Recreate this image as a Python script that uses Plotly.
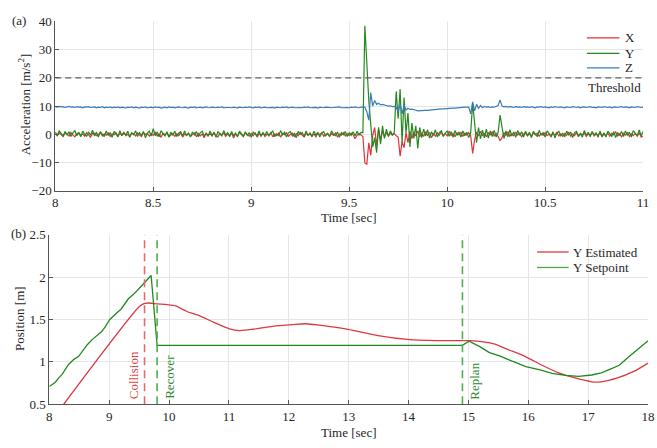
import numpy as np
import plotly.graph_objects as go

# ---------------- data: panel (a) ----------------
t_start, t_step, n_samples = 8.0, 0.01, 301
acc_time = np.round(t_start + t_step * np.arange(n_samples), 2)

acc_x = [
    0.3, -0.5, 0.6, -0.2, -0.8, 0.4, 0.1, -0.6, 0.7, -0.3,
    -0.9, 0.2, 0.5, -0.4, 0.1, -0.7, 0.6, -0.2, -1.0, 0.3,
    0.4, -0.5, -0.1, 0.7, -0.6, 0.2, -0.3, 0.5, -0.8, 0.1,
    -0.2, 0.6, -0.7, 0.3, -0.4, 0.8, -0.5, 0.0, -0.9, 0.4,
    0.2, -0.6, 0.5, -0.3, -0.8, 0.6, -0.1, 0.3, -0.7, 0.2,
    -0.4, 0.7, -0.6, 0.1, -1.1, 0.4, -0.2, 0.5, -0.9, -0.3,
    0.3, -0.8, 0.2, -0.5, 0.6, -1.0, 0.1, -0.4, 0.4, -0.7,
    -0.2, 0.5, -0.9, 0.3, -0.6, 0.1, -1.2, 0.4, -0.3, 0.2,
    -0.7, 0.6, -0.4, -1.0, 0.3, -0.2, 0.5, -0.8, 0.1, -0.5,
    0.4, -1.3, 0.2, -0.6, 0.7, -0.3, -0.9, 0.5, -0.1, -0.7,
    0.3, -0.5, 0.6, -1.0, 0.2, -0.4, 0.5, -0.8, 0.0, -0.3,
    0.6, -0.9, 0.1, -0.5, 0.4, -1.1, 0.3, -0.2, 0.5, -0.7,
    -0.1, 0.4, -0.8, 0.2, -0.5, 0.7, -0.3, -1.0, 0.3, -0.4,
    0.5, -0.6, 0.1, -0.9, 0.4, -0.2, 0.6, -0.7, -0.1, 0.3,
    -0.8, 0.2, -0.4, 0.5, -1.0, 0.1, -0.3, 0.6, -0.6, 0.2,
    -0.5, 0.4, -0.2, -1.6, -0.4, 0.3, -0.3, -0.8, -10.2, -10.6,
    -3.0, -7.5, -0.5, 2.4, -4.0, 1.8, -2.2, 1.2, -1.0, 0.6,
    -0.6, 0.4, -0.3, 0.2, -0.5, -1.0, -7.8, -2.5, -4.8, 0.6,
    -3.0, 1.0, -1.5, 0.8, -0.6, 1.2, -1.0, 0.5, -0.8, 0.9,
    -0.4, 0.6, -1.2, 0.3, -0.7, 0.5, -0.3, 0.9, -0.5, 0.2,
    -0.6, 1.2, -0.4, 0.3, -0.9, 0.5, -0.2, 0.7, -0.8, 0.4,
    -0.3, 0.6, -0.5, -6.8, -2.0, 0.8, -0.6, 1.0, -0.4, 0.3,
    -0.9, 0.5, -0.2, 0.8, -0.6, 0.3, -0.8, -2.3, -1.2, 0.6,
    -0.4, 0.9, -0.7, 0.2, -0.5, 0.7, -0.3, 0.4, -0.9, 0.1,
    0.5, -0.6, 0.3, -0.8, 0.6, -0.2, 0.4, -0.7, 0.2, -0.4,
    0.6, -0.5, 0.1, -0.9, 0.4, -0.3, 0.7, -0.6, 0.2, -0.8,
    0.3, -0.4, 0.8, -0.7, 0.1, -0.5, 0.6, -0.9, 0.3, -0.2,
    0.5, -0.8, 0.2, -0.4, 0.7, -0.6, 0.1, -0.3, 0.6, -1.0,
    0.2, -0.5, 0.4, -0.7, 0.3, -0.2, 0.8, -0.6, 0.1, -0.9,
    0.4, -0.3, 0.6, -0.8, 0.2, -0.5, 0.3, -0.7, 0.5, -1.0,
    -0.6,
]

acc_y = [
    0.8, -0.4, 1.2, 0.2, -0.6, 1.0, -0.2, 0.9, -0.8, 0.5,
    1.3, -0.5, 0.6, -0.9, 1.1, 0.0, -0.7, 0.8, -0.3, 1.4,
    -0.6, 0.7, -1.0, 0.9, 0.1, -0.8, 1.2, -0.4, 0.6, -1.1,
    1.0, 0.2, -0.9, 1.3, -0.5, 0.4, -0.3, 1.1, -1.0, 0.5,
    -0.2, 1.2, -0.8, 0.6, -0.4, 1.0, -1.2, 0.3, 1.1, -0.6,
    2.0, -0.5, 0.8, -0.9, 1.3, 0.1, -0.6, 0.9, -1.0, 0.7,
    -0.3, 1.1, -0.8, 0.4, 0.9, -0.7, 1.2, -0.4, 0.3, -1.0,
    0.8, -0.2, 1.0, -0.9, 0.5, 1.1, -0.5, 0.2, -0.8, 1.2,
    -0.4, 0.7, -1.1, 0.9, 0.0, -0.6, 1.3, -0.3, 0.6, -0.9,
    1.0, -0.5, 0.4, -1.0, 1.1, 0.2, -0.7, 0.9, -0.4, 0.6,
    -1.1, 0.8, 0.1, -0.6, 1.2, -0.8, 0.5, -0.3, 1.0, -0.7,
    0.4, 1.1, -0.9, 0.2, -0.5, 1.3, -0.2, 0.7, -1.0, 0.5,
    0.9, -0.6, 0.3, -1.2, 1.0, -0.1, 0.6, -0.8, 1.2, -0.4,
    0.2, -0.9, 1.1, -0.3, 0.7, -1.0, 0.5, 0.9, -0.6, 0.3,
    -0.7, 1.2, 0.0, -0.5, 0.8, -1.1, 0.6, -0.2, 1.0, -0.8,
    0.5, -0.4, 0.9, -0.6, 1.1, -0.3, 0.7, 0.6, 38.5, 24.0,
    12.0, 3.5, -4.5, -1.2, -6.5, 2.5, -3.5, 3.0, -1.5, 1.8,
    -0.8, 1.2, -0.2, 0.6, 15.2, 5.5, 16.0, -3.0, 13.0, 0.5,
    7.5, -4.5, 4.0, -1.5, 3.0, -5.0, 2.4, -1.2, 1.8, -0.6,
    1.6, -1.4, 0.9, -0.4, 1.5, -1.0, 0.6, 1.2, -0.8, 0.4,
    1.1, -0.7, 0.9, -1.1, 1.3, -0.4, 0.8, -1.0, 1.2, -0.5,
    0.7, -1.2, 0.5, 11.0, 4.0, -3.0, 2.4, -1.6, 1.5, -1.3,
    1.8, -1.4, 1.2, -0.8, 1.4, -1.0, 0.6, 6.8, 2.5, -1.5,
    1.2, -0.9, 1.6, -0.6, 0.8, -1.1, 1.3, -0.4, 0.9, -1.0,
    1.1, -0.5, 0.7, -1.2, 1.0, 0.2, -0.8, 1.4, -0.3, 0.6,
    -1.0, 1.2, 0.1, -0.7, 0.9, -1.3, 0.5, 1.0, -0.6, 0.3,
    -0.9, 1.1, -0.2, 0.8, -1.2, 0.6, 1.0, -0.5, 0.2, -1.0,
    1.3, -0.4, 0.7, -0.9, 1.0, -0.2, 0.5, -1.1, 1.2, -0.6,
    0.4, -1.0, 1.1, 0.1, -0.7, 0.9, -1.2, 0.6, -0.3, 1.0,
    -0.8, 1.2, -0.4, 0.7, -1.0, 1.3, 0.2, -0.6, 1.5, -0.5,
    1.0,
]

acc_z = [
    9.8, 9.6, 9.9, 9.7, 9.8, 9.5, 9.7, 9.9, 9.6, 9.7,
    9.5, 9.8, 9.6, 9.7, 9.4, 9.7, 9.6, 9.8, 9.5, 9.6,
    9.7, 9.4, 9.6, 9.5, 9.8, 9.4, 9.6, 9.5, 9.7, 9.4,
    9.6, 9.5, 9.7, 9.4, 9.6, 9.5, 9.3, 9.6, 9.5, 9.7,
    9.4, 9.6, 9.5, 9.3, 9.6, 9.5, 9.7, 9.4, 9.5, 9.6,
    9.4, 9.7, 9.5, 9.6, 9.3, 9.5, 9.6, 9.4, 9.7, 9.5,
    9.6, 9.4, 9.5, 9.7, 9.5, 9.4, 9.6, 9.5, 9.3, 9.6,
    9.5, 9.7, 9.4, 9.5, 9.6, 9.4, 9.5, 9.7, 9.5, 9.4,
    9.6, 9.5, 9.4, 9.6, 9.5, 9.7, 9.4, 9.5, 9.6, 9.5,
    9.4, 9.6, 9.5, 9.3, 9.6, 9.5, 9.4, 9.6, 9.5, 9.7,
    9.5, 9.4, 9.6, 9.5, 9.7, 9.4, 9.5, 9.6, 9.4, 9.5,
    9.6, 9.5, 9.3, 9.6, 9.5, 9.4, 9.6, 9.5, 9.7, 9.4,
    9.5, 9.6, 9.4, 9.5, 9.6, 9.5, 9.4, 9.6, 9.5, 9.7,
    9.4, 9.5, 9.6, 9.5, 9.3, 9.6, 9.5, 9.4, 9.6, 9.5,
    9.6, 9.4, 9.5, 9.6, 9.5, 9.7, 9.4, 9.5, 9.6, 9.5,
    9.4, 9.6, 9.5, 9.7, 9.5, 9.4, 9.6, 9.5, 9.6, 8.0,
    5.0, 14.8, 10.0, 12.0, 10.6, 11.0, 10.4, 10.6, 10.3, 10.2,
    10.0, 10.1, 9.8, 9.9, 9.6, 8.0, 10.8, 7.2, 10.2, 8.6,
    9.2, 8.8, 8.9, 8.6, 8.5, 8.3, 8.4, 8.3, 8.4, 8.5,
    8.5, 8.6, 8.6, 8.7, 8.8, 8.8, 8.9, 9.0, 9.0, 9.1,
    9.1, 9.2, 9.2, 9.3, 9.3, 9.4, 9.4, 9.5, 9.5, 9.6,
    9.6, 9.6, 7.2, 11.5, 8.3, 10.6, 9.2, 10.2, 9.4, 9.9,
    9.6, 9.8, 9.5, 9.7, 9.6, 9.8, 10.2, 12.2, 10.0, 9.7,
    9.9, 9.6, 9.8, 9.7, 9.5, 9.8, 9.6, 9.7, 9.5, 9.8,
    9.6, 9.7, 9.5, 9.8, 9.6, 9.4, 9.7, 9.6, 9.8, 9.5,
    9.7, 9.6, 9.4, 9.7, 9.5, 9.8, 9.6, 9.5, 9.7, 9.6,
    9.4, 9.7, 9.6, 9.5, 9.8, 9.6, 9.5, 9.7, 9.4, 9.6,
    9.7, 9.5, 9.6, 9.8, 9.5, 9.6, 9.4, 9.7, 9.6, 9.5,
    9.8, 9.6, 9.5, 9.7, 9.4, 9.6, 9.7, 9.5, 9.6, 9.8,
    9.5, 9.7, 9.6, 9.4, 9.7, 9.6, 9.5, 9.8, 9.6, 9.5,
    9.6,
]

threshold_value = 20
acc_xticks = [8, 8.5, 9, 9.5, 10, 10.5, 11]
acc_yticks = [-20, -10, 0, 10, 20, 30, 40]

# ---------------- data: panel (b) ----------------
sp_time = [8.0, 8.10, 8.16, 8.21, 8.32, 8.41, 8.49, 8.59, 8.63, 8.71, 8.76, 8.82,
           8.87, 8.93, 9.01, 9.12, 9.20, 9.32, 9.41, 9.53, 9.70, 9.80,
           14.90, 15.01, 15.19, 15.35, 15.52, 15.74, 15.96, 16.18, 16.40,
           16.62, 16.84, 17.06, 17.22, 17.39, 17.52, 17.66, 17.82, 18.0]
sp_pos = [0.71, 0.76, 0.815, 0.85, 0.97, 1.03, 1.065, 1.17, 1.20, 1.26, 1.29, 1.32,
          1.355, 1.41, 1.50, 1.575, 1.625, 1.745, 1.80, 1.89, 2.02, 1.195,
          1.195, 1.245, 1.18, 1.11, 1.07, 1.005, 0.945, 0.91, 0.865,
          0.84, 0.83, 0.845, 0.87, 0.92, 0.96, 1.05, 1.14, 1.25]

est_time = [8.24, 9.50, 9.59, 9.67, 9.80, 9.97, 10.11, 10.30, 10.52, 10.74, 11.01,
            11.18, 11.40, 11.73, 12.06, 12.28, 12.66, 12.99, 13.49, 13.98, 14.47,
            15.02, 15.41, 15.68, 15.96, 16.23, 16.51, 16.78, 17.06, 17.22, 17.49,
            17.77, 18.0]
est_pos = [0.50, 1.65, 1.69, 1.695, 1.685, 1.675, 1.66, 1.595, 1.54, 1.47, 1.39,
           1.37, 1.385, 1.42, 1.44, 1.45, 1.42, 1.385, 1.31, 1.265, 1.25,
           1.25, 1.215, 1.14, 1.06, 0.96, 0.87, 0.81, 0.765, 0.765, 0.81,
           0.89, 0.985]

event_names = ["Collision", "Recover", "Replan"]
event_times = [9.59, 9.80, 14.90]
event_colors = ["#e36a6a", "#4fae4f", "#4fae4f"]
event_text_colors = ["#d94444", "#2e8b2e", "#2e8b2e"]

pos_xticks = list(range(8, 19))
pos_yticks = [0.5, 1, 1.5, 2, 2.5]

# ---------------- styles ----------------
FONT = "Liberation Serif"
RED = "#e2323c"
GREEN = "#22891f"
BLUE = "#3a7cb8"
GRID = "#e6e6e6"
AXIS = "#555555"
TXT = "#262626"

fig = go.Figure()

# panel (a)
fig.add_trace(go.Scatter(x=acc_time, y=acc_x, mode="lines", name="X",
                         line=dict(color=RED, width=1.2), xaxis="x", yaxis="y"))
fig.add_trace(go.Scatter(x=acc_time, y=acc_y, mode="lines", name="Y",
                         line=dict(color=GREEN, width=1.2), xaxis="x", yaxis="y"))
fig.add_trace(go.Scatter(x=acc_time, y=acc_z, mode="lines", name="Z",
                         line=dict(color=BLUE, width=1.2), xaxis="x", yaxis="y"))
fig.add_trace(go.Scatter(x=[acc_xticks[0], acc_xticks[-1]],
                         y=[threshold_value, threshold_value], mode="lines",
                         name="Threshold",
                         line=dict(color="#606060", width=1.2, dash="6px,4px"),
                         xaxis="x", yaxis="y"))

# panel (b)
fig.add_trace(go.Scatter(x=est_time, y=est_pos, mode="lines", name="Y Estimated",
                         line=dict(color="#db3a42", width=1.3, shape="spline", smoothing=0.7),
                         xaxis="x2", yaxis="y2"))
fig.add_trace(go.Scatter(x=sp_time, y=sp_pos, mode="lines", name="Y Setpoint",
                         line=dict(color=GREEN, width=1.3),
                         xaxis="x2", yaxis="y2"))
for nm, et, ec in zip(event_names, event_times, event_colors):
    fig.add_trace(go.Scatter(x=[et, et], y=[pos_yticks[0], pos_yticks[-1]], mode="lines",
                             name=nm, line=dict(color=ec, width=1.6, dash="8px,5px"),
                             xaxis="x2", yaxis="y2"))

axis_common = dict(showgrid=True, gridcolor=GRID, gridwidth=1, zeroline=False,
                   showline=True, linecolor=AXIS, linewidth=1, ticks="inside",
                   ticklen=4, tickcolor=AXIS, mirror=False,
                   tickfont=dict(family=FONT, size=13, color=TXT))

fig.update_layout(
    width=657, height=448,
    margin=dict(l=0, r=0, t=0, b=0),
    paper_bgcolor="white", plot_bgcolor="white",
    showlegend=False,
    font=dict(family=FONT, size=13, color=TXT),
    xaxis=dict(domain=[53 / 657, 649 / 657], range=[8, 11], tickvals=acc_xticks,
               anchor="y", **axis_common),
    yaxis=dict(domain=[1 - 190 / 448, 1 - 15 / 448], range=[-20, 40],
               tickvals=acc_yticks, anchor="x", **axis_common),
    xaxis2=dict(domain=[47 / 657, 654 / 657], range=[8, 18], tickvals=pos_xticks,
                anchor="y2", **axis_common),
    yaxis2=dict(domain=[1 - 411 / 448, 1 - 235.7 / 448], range=[0.5, 2.5],
                tickvals=pos_yticks, anchor="x2", **axis_common),
)


def pann(text, px, py, **kw):
    d = dict(text=text, x=px / 657, y=1 - py / 448, xref="paper", yref="paper",
             showarrow=False, xanchor="center", yanchor="middle",
             font=dict(family=FONT, size=13, color=TXT))
    d.update(kw)
    return d


ann = []
# axis titles
ann.append(pann("Time [sec]", 351, 218))
ann.append(pann("Time [sec]", 351, 440))
ann.append(pann("Acceleration [m/s<sup>2</sup>]", 21, 101, textangle=-90))
ann.append(pann("Position [m]", 16, 322, textangle=-90))
ann.append(pann("(a)", 16, 14))
ann.append(pann("(b)", 16, 234))

# event labels
ann.append(dict(text=event_names[0], x=event_times[0], y=pos_yticks[0], xref="x2", yref="y2",
                xanchor="right", yanchor="bottom", xshift=-2, yshift=3, textangle=-90,
                showarrow=False, font=dict(family=FONT, size=13, color=event_text_colors[0])))
for nm, et, tc in zip(event_names[1:], event_times[1:], event_text_colors[1:]):
    ann.append(dict(text=nm, x=et, y=pos_yticks[0], xref="x2", yref="y2",
                    xanchor="left", yanchor="bottom", xshift=3, yshift=3, textangle=-90,
                    showarrow=False, font=dict(family=FONT, size=13, color=tc)))

# manual legends
shapes = []
leg_a = [("X", RED, 32), ("Y", GREEN, 48), ("Z", BLUE, 63)]
for lbl, col, py in leg_a:
    shapes.append(dict(type="line", xref="paper", yref="paper",
                       x0=592 / 657, x1=625 / 657, y0=1 - py / 448, y1=1 - py / 448,
                       line=dict(color=col, width=1.3)))
    ann.append(pann(lbl, 629, py, xanchor="left"))
ann.append(pann("Threshold", 591, 83, xanchor="left"))

leg_b = [("Y Estimated", "#db3a42", 253.5), ("Y Setpoint", "#4fa83f", 269.5)]
for lbl, col, py in leg_b:
    shapes.append(dict(type="line", xref="paper", yref="paper",
                       x0=541.5 / 657, x1=573.5 / 657, y0=1 - py / 448, y1=1 - py / 448,
                       line=dict(color=col, width=1.3)))
    ann.append(pann(lbl, 576, py, xanchor="left"))

fig.update_layout(annotations=ann, shapes=shapes)

fig.write_html("out.html")
